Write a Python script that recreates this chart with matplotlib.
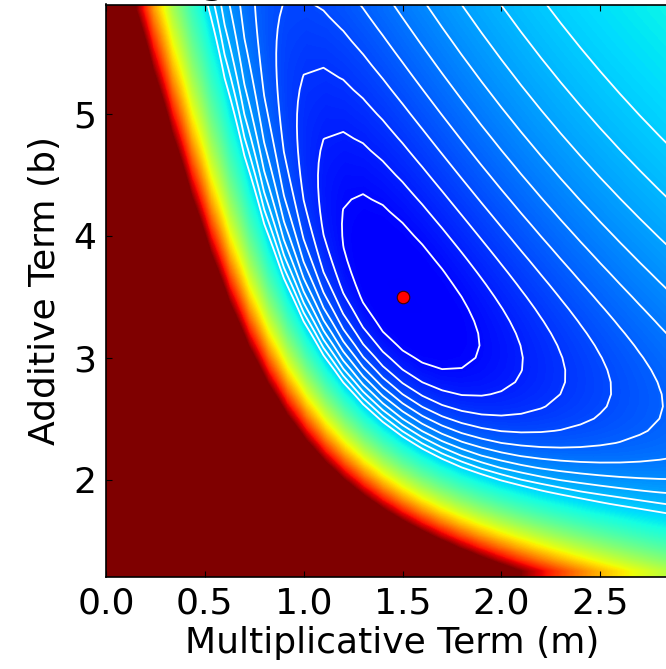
import numpy as np
import matplotlib
matplotlib.use('Agg')
import matplotlib.pyplot as plt

# ---- data -------------------------------------------------------------
x_obs = [0.5, 0.5, 0.5, 1.0, 2.0, 3.0, 4.0, 5.0, 6.0, 6.0]
y_obs = [4.25, 4.25, 4.25, 5.0, 6.5, 8.0, 9.5, 11.0, 12.5, 12.5]
best_m, best_b = 1.5, 3.5                     # red dot
m_values = np.linspace(0.0, 2.9, 30)          # grid of the multiplicative term
b_values = np.linspace(1.2, 5.9, 48)          # grid of the additive term
xtick_values = [0.0, 0.5, 1.0, 1.5, 2.0, 2.5]
ytick_values = [2, 3, 4, 5]
k_below, k_above = 1.0, 3.0                   # misfit exponents (model below / above data)

# points used to anchor the colour scale and the contour spacing
clip_points = [(0.561, 3.642), (1.806, 1.366)]
contour_anchor_m = [1.74, 2.787]
contour_anchor_b = 3.642
last_contour_point = (2.31, 5.88)


def misfit(mm, bb):
    mm = np.asarray(mm, float)
    bb = np.asarray(bb, float)
    total = np.zeros(np.broadcast(mm, bb).shape)
    for x, y in zip(x_obs, y_obs):
        ratio = np.maximum(mm * x + bb, 1e-3) / y
        k = np.where(ratio < 1, k_below, k_above)
        total = total + (ratio ** (-k) - 1.0) ** 2 / k ** 2
    return total


MM, BB = np.meshgrid(m_values, b_values)
surface = misfit(MM, BB)

vmax = np.mean([misfit(p, q) for p, q in clip_points])
vmin = -0.125 * vmax
lev0 = misfit(contour_anchor_m[0], contour_anchor_b)
step = (misfit(contour_anchor_m[1], contour_anchor_b) - lev0) / 6.0
top_level = misfit(*last_contour_point)
levels = lev0 + step * np.arange(int((top_level - lev0) / step) + 1)

# ---- figure -----------------------------------------------------------
plt.rcParams['font.family'] = ['DejaVu Sans']
plt.rcParams['font.size'] = 26
fig = plt.figure(figsize=(6.66, 6.69), dpi=100)
ax = fig.add_axes([106 / 666, 92 / 669, 573.3 / 666, 572.5 / 669])

ax.imshow(surface, extent=[m_values[0], m_values[-1], b_values[0], b_values[-1]],
          origin='lower', aspect='auto', cmap='jet', vmin=vmin, vmax=vmax,
          interpolation='bilinear')
ax.contour(MM, BB, surface, levels=levels, colors='white', linewidths=1.3)
ax.plot([best_m], [best_b], 'o', color='red', markersize=9,
        markeredgecolor='#400000', markeredgewidth=0.8)

ax.set_xlim(m_values[0], m_values[-1])
ax.set_ylim(b_values[0], b_values[-1])
ax.set_xticks(xtick_values)
ax.set_xticklabels(['%.1f' % v for v in xtick_values])
ax.set_yticks(ytick_values)
ax.set_yticklabels([str(v) for v in ytick_values])
ax.tick_params(direction='in', top=True, right=True, length=4, width=0.8,
               labelsize=26, pad=7)
for s in ax.spines.values():
    s.set_linewidth(1.2)
ax.set_xlabel('Multiplicative Term (m)', fontsize=26, labelpad=4)
ax.set_ylabel('Additive Term (b)', fontsize=26, labelpad=8)
ax.set_title('Log-Likelihood Surface', fontsize=31, pad=9)

fig.savefig('out.png', dpi=100)
